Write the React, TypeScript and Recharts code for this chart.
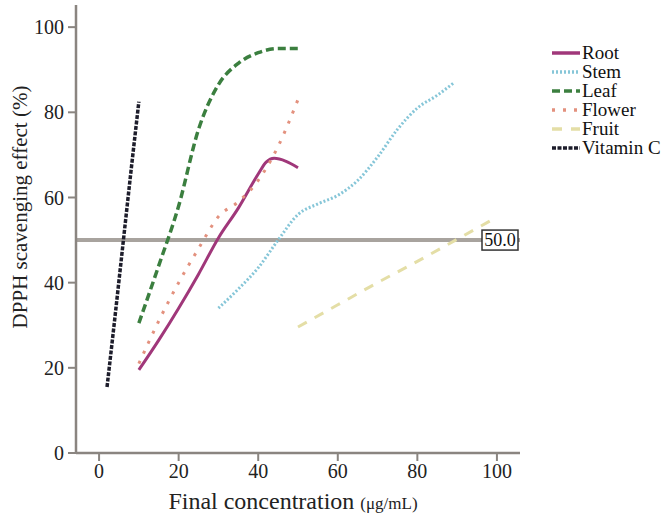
import React from 'react';
import {
  LineChart,
  Line,
  XAxis,
  YAxis,
  ReferenceLine,
} from 'recharts';

// values (x = µg/mL, y = % scavenging)
const rootX = [10, 15, 20, 25, 30, 35, 40, 42, 44, 47, 50];
const rootY = [19.5, 26.5, 34, 42, 50.5, 57.5, 65.5, 68.3, 69.2, 68.5, 67];

const stemX = [30, 35, 40, 45, 50, 55, 60, 65, 70, 75, 80, 85, 89];
const stemY = [34, 38.5, 43.5, 50, 56, 58.5, 60.5, 64, 69.5, 76, 81, 84, 86.8];

const leafX = [10, 15, 20, 25, 30, 35, 40, 45, 50];
const leafY = [30.5, 44, 58, 76, 86.5, 91.5, 94, 95, 95];

const flowerX = [10, 15, 20, 25, 30, 35, 40, 45, 50];
const flowerY = [21, 31, 40, 48, 55.5, 59, 64, 72, 83];

const fruitX = [50, 60, 70, 80, 90, 100];
const fruitY = [29.6, 34.8, 40, 45, 50.2, 55.4];

const vitcX = [2, 4, 6, 8, 10];
const vitcY = [15.5, 32, 49, 66, 82.5];

const xTicks = [0, 20, 40, 60, 80, 100];
const yTicks = [0, 20, 40, 60, 80, 100];
const halfValue = 50;

const toPoints = (xs: number[], ys: number[]) => xs.map((x, i) => ({ x, y: ys[i] }));

const series = [
  { name: 'Root', data: toPoints(rootX, rootY), color: '#a0377a', dash: undefined, width: 3 },
  { name: 'Stem', data: toPoints(stemX, stemY), color: '#86c6d8', dash: '2 2', width: 3 },
  { name: 'Leaf', data: toPoints(leafX, leafY), color: '#3b7f3f', dash: '8 4', width: 3.5 },
  { name: 'Flower', data: toPoints(flowerX, flowerY), color: '#e3917e', dash: '3 8', width: 3 },
  { name: 'Fruit', data: toPoints(fruitX, fruitY), color: '#e4dea6', dash: '10 9', width: 3 },
  { name: 'Vitamin C', data: toPoints(vitcX, vitcY), color: '#1d1d2b', dash: '4 1.5', width: 3.5 },
];

const FONT = 'Liberation Serif, serif';
const AXIS = '#8a8580';

const BoxLabel = (props: any) => {
  const { viewBox } = props;
  const right = viewBox.x + viewBox.width;
  const y = viewBox.y;
  return (
    <g>
      <rect x={right - 38} y={y - 10} width={36} height={20} fill="#fff" stroke="#333" strokeWidth={1.5} />
      <text x={right - 20} y={y + 6} textAnchor="middle" style={{ fontFamily: FONT, fontSize: 18 }} fill="#111">
        {halfValue.toFixed(1)}
      </text>
    </g>
  );
};

const LegendBox = () => (
  <div
    style={{
      position: 'absolute',
      left: 552,
      top: 43,
      fontFamily: FONT,
      fontSize: 19,
      color: '#111',
      lineHeight: '19px',
      whiteSpace: 'nowrap',
    }}
  >
    {series.map((s) => (
      <div key={s.name} style={{ display: 'flex', alignItems: 'center', height: 19 }}>
        <svg width={30} height={10}>
          <line x1={0} y1={5} x2={28} y2={5} stroke={s.color} strokeWidth={3.5} strokeDasharray={s.dash} />
        </svg>
        <span>{s.name}</span>
      </div>
    ))}
  </div>
);

const XTitle = () => (
  <text x={293} y={509} textAnchor="middle" fill="#222" style={{ fontFamily: FONT }}>
    <tspan fontSize={24}>Final concentration </tspan>
    <tspan fontSize={17}>(μg/mL)</tspan>
  </text>
);

const YTitle = () => (
  <text
    x={20}
    y={207}
    transform="rotate(-90 20 207)"
    textAnchor="middle"
    dominantBaseline="central"
    fill="#222"
    style={{ fontFamily: FONT, fontSize: 21 }}
  >
    DPPH scavenging effect (%)
  </text>
);

const tickStyle = { fontSize: 20, fill: '#222', fontFamily: FONT };

const App: React.FC = () => {
  return (
    <div style={{ position: 'absolute', left: 0, top: 0, width: 666, height: 519, background: '#fff' }}>
      <LineChart
        width={666}
        height={519}
        margin={{ top: 5, right: 146, left: 0, bottom: 0 }}
      >
        <XAxis
          dataKey="x"
          type="number"
          domain={[-5.8, 105.8]}
          ticks={xTicks}
          allowDuplicatedCategory={false}
          height={66}
          tickSize={8}
          tickMargin={3}
          tick={tickStyle}
          axisLine={{ stroke: AXIS, strokeWidth: 2.5 }}
          tickLine={{ stroke: AXIS, strokeWidth: 2 }}
          label={<XTitle />}
        />
        <XAxis
          xAxisId="top"
          orientation="top"
          type="number"
          domain={[-5.8, 105.8]}
          height={0}
          tick={false}
          tickLine={false}
          axisLine={{ stroke: '#a09b96', strokeWidth: 2 }}
        />
        <YAxis
          type="number"
          domain={[0, 105.2]}
          ticks={yTicks}
          width={76}
          tickSize={8}
          tickMargin={4}
          tick={tickStyle}
          axisLine={{ stroke: AXIS, strokeWidth: 2.5 }}
          tickLine={{ stroke: AXIS, strokeWidth: 2 }}
          label={<YTitle />}
        />
        <YAxis
          yAxisId="right"
          orientation="right"
          type="number"
          domain={[0, 105.2]}
          width={0}
          tick={false}
          tickLine={false}
          axisLine={{ stroke: '#a09b96', strokeWidth: 2 }}
        />
        <ReferenceLine
          y={halfValue}
          stroke="#a8a39e"
          strokeWidth={4}
          label={<BoxLabel />}
        />
        {series.map((s) => (
          <Line
            key={s.name}
            data={s.data}
            dataKey="y"
            name={s.name}
            type="monotone"
            stroke={s.color}
            strokeWidth={s.width}
            strokeDasharray={s.dash}
            dot={false}
            activeDot={false}
            isAnimationActive={false}
          />
        ))}
      </LineChart>
      <LegendBox />
    </div>
  );
};

export default App;
